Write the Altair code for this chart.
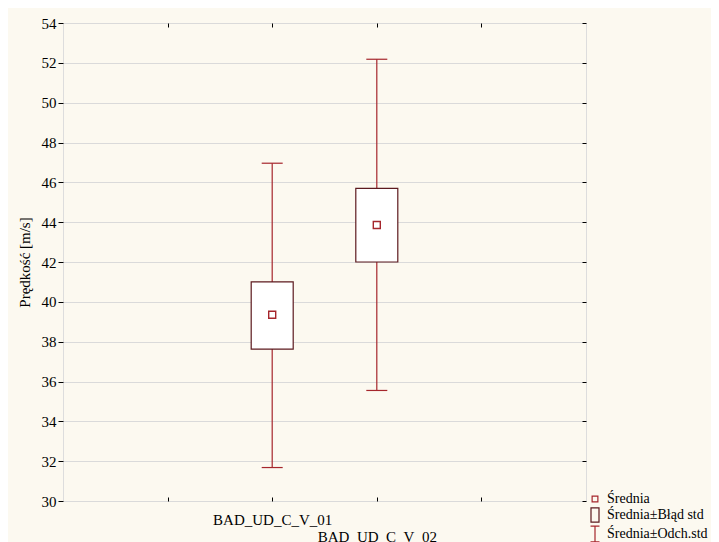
import altair as alt
import pandas as pd

categories = ["BAD_UD_C_V_01", "BAD_UD_C_V_02"]
means = [39.35, 43.86]
se_low = [37.63, 42.00]
se_high = [41.00, 45.70]
sd_low = [31.68, 35.55]
sd_high = [46.96, 52.18]

y_ticks = list(range(30, 55, 2))
legend_labels = ["Średnia", "Średnia±Błąd std", "Średnia±Odch.std"]

RED = "#A5262C"
DARK = "#5C1A1F"
FONT = "Liberation Serif, Times New Roman, serif"

df = pd.DataFrame({
    "cat": categories,
    "mean": means,
    "se_lo": se_low,
    "se_hi": se_high,
    "sd_lo": sd_low,
    "sd_hi": sd_high,
})
legend_df = pd.DataFrame({"label": legend_labels})

x_domain = [" "] + categories + ["  "]
xscale = alt.Scale(type="point", domain=x_domain, padding=1)
yscale = alt.Scale(domain=[30, 54], nice=False, zero=False)

label_expr = f"datum.label == '{categories[1]}' ? ['', datum.label] : datum.label"

bottom_axis = alt.Axis(orient="bottom", offset=-4, tickSize=4, domain=False, grid=False,
                       labelPadding=11, labelLineHeight=17, labelExpr=label_expr,
                       labelAngle=0, labelFontSize=15, labelFont=FONT, labelColor="black",
                       tickColor="black", labelOverlap=False)
top_axis = alt.Axis(orient="top", offset=-4, tickSize=4, domain=False, grid=False,
                    labels=False, tickColor="black", title=None)
left_axis = alt.Axis(orient="left", values=y_ticks, tickSize=5, domain=False, grid=True,
                     gridColor="#DADADA", gridWidth=1, labelPadding=2, labelFontSize=15,
                     labelFont=FONT, labelColor="black", tickColor="black",
                     titleFont=FONT, titleFontSize=15, titleFontWeight="normal",
                     titleColor="black", titlePadding=9)
right_axis = alt.Axis(orient="right", values=y_ticks, offset=-4, tickSize=4, domain=False,
                      grid=False, labels=False, tickColor="black", title=None)

base = alt.Chart(df)

whiskers = base.mark_rule(color=RED, strokeWidth=1.2).encode(
    x=alt.X("cat:N", scale=xscale, axis=bottom_axis, title=None),
    y=alt.Y("sd_lo:Q", scale=yscale, axis=left_axis, title="Prędkość [m/s]"),
    y2="sd_hi:Q",
)

caps = base.transform_fold(["sd_lo", "sd_hi"], as_=["k", "v"]).mark_point(
    shape="stroke", size=441, color=RED, strokeWidth=1.2, filled=False, opacity=1
).encode(
    x=alt.X("cat:N", scale=xscale, axis=top_axis),
    y=alt.Y("v:Q", scale=yscale, axis=right_axis),
)

boxes = base.mark_bar(size=42, fill="white", stroke=DARK, strokeWidth=1.2).encode(
    x=alt.X("cat:N", scale=xscale, axis=None),
    y=alt.Y("se_lo:Q", scale=yscale, axis=None),
    y2="se_hi:Q",
)

mean_pts = base.mark_point(shape="square", size=49, filled=False, color=RED,
                           strokeWidth=1.4, opacity=1).encode(
    x=alt.X("cat:N", scale=xscale, axis=None),
    y=alt.Y("mean:Q", scale=yscale, axis=None),
)

paths = [
    "M-0.36,-0.36H0.36V0.36H-0.36Z",
    "M-0.5,-0.9H0.5V0.9H-0.5Z",
    "M-0.56,-0.98H0.56M0,-0.98V0.98M-0.56,0.98H0.56",
]

leg = alt.Legend(orient="none", legendX=523, legendY=467, title=None, padding=0,
                 symbolSize=256, symbolStrokeWidth=1.2, labelFont=FONT, labelFontSize=14,
                 labelColor="black", labelOffset=3, rowPadding=-3, symbolOpacity=1)

legend_layer = alt.Chart(legend_df).mark_point(filled=False, clip=True, strokeWidth=1.2,
                                                opacity=1).encode(
    x=alt.value(-100),
    y=alt.value(-100),
    shape=alt.Shape("label:N", scale=alt.Scale(domain=legend_labels, range=paths), legend=leg),
    color=alt.Color("label:N", scale=alt.Scale(domain=legend_labels, range=[RED, DARK, RED]),
                    legend=leg),
)

chart = alt.layer(whiskers, caps, boxes, mean_pts, legend_layer).resolve_axis(
    x="independent", y="independent"
).properties(
    width=523,
    height=478,
    padding={"left": 55, "top": 15, "right": 125, "bottom": 41},
    autosize="none",
    background="#FCF9F0",
).configure_view(
    stroke="black", strokeWidth=1, fill="white"
).configure(font=FONT)

chart.save("out.html", embed_options={"renderer": "svg", "actions": False})
